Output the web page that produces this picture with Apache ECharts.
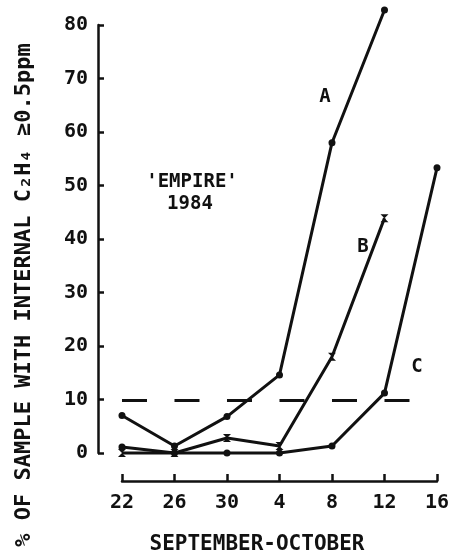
<!DOCTYPE html>
<html>
<head>
<meta charset="utf-8">
<script src="https://cdn.jsdelivr.net/npm/echarts@6/dist/echarts.min.js"></script>
<style>
html,body{margin:0;padding:0;background:#fff;}
#main{width:453px;height:559px;}
</style>
</head>
<body>
<div id="main"></div>
<script>
/*********** data ***********/
var days = ['22', '26', '30', '4', '8', '12', '16'];
var yTicks = [0, 10, 20, 30, 40, 50, 60, 70, 80];
var curveA = [7, 1.3, 6.8, 14.6, 58, 82.8, null];
var curveB = [0, 0, 2.8, 1.3, 18, 43.9, null];
var curveC = [1.1, 0, 0, 0, 1.3, 11.2, 53.3];
var limitX = [0, 5.5];
var limitY = [9.8, 9.8];

var font = '"DejaVu Sans Mono", "Liberation Mono", monospace';
var ink = '#111';

function pairs(vals) {
    var out = [];
    for (var i = 0; i < vals.length; i++) {
        if (vals[i] !== null) out.push([i, vals[i]]);
    }
    return out;
}
function limitPairs() {
    var out = [];
    for (var i = 0; i < limitX.length; i++) out.push([limitX[i], limitY[i]]);
    return out;
}

var bowtie = 'path://M0,0 L10,0 L0,10 L10,10 Z';

var myChart = echarts.init(document.getElementById('main'));

var option = {
    backgroundColor: '#fff',
    animation: false,
    grid: [
        {left: 98, right: 16, top: 25, bottom: 106},
        {left: 122, right: 16, top: 460, bottom: 78}
    ],
    xAxis: [
        {
            gridIndex: 0, type: 'value', min: -0.457, max: 6,
            show: false
        },
        {
            gridIndex: 1, type: 'value', min: 0, max: 6, interval: 1,
            axisLine: {show: true, onZero: false, lineStyle: {color: ink, width: 2.5}},
            axisTick: {show: true, inside: true, length: 7, lineStyle: {color: ink, width: 2.5}},
            splitLine: {show: false},
            axisLabel: {
                margin: 12, color: ink, fontFamily: font, fontWeight: 'bold', fontSize: 20,
                formatter: function (v) { return days[v]; }
            }
        }
    ],
    yAxis: [
        {
            gridIndex: 0, type: 'value', min: yTicks[0], max: yTicks[yTicks.length - 1], interval: 10,
            axisLine: {show: true, onZero: false, lineStyle: {color: ink, width: 2.5}},
            axisTick: {show: true, inside: true, length: 6, lineStyle: {color: ink, width: 2.5}},
            splitLine: {show: false},
            axisLabel: {margin: 10, color: ink, fontFamily: font, fontWeight: 'bold', fontSize: 20}
        },
        {gridIndex: 1, type: 'value', show: false}
    ],
    series: [
        {
            name: 'A', type: 'line', data: pairs(curveA), clip: false,
            symbol: 'circle', symbolSize: 7,
            lineStyle: {color: ink, width: 3}, itemStyle: {color: ink}
        },
        {
            name: 'B', type: 'line', data: pairs(curveB), clip: false,
            symbol: bowtie, symbolSize: 8,
            lineStyle: {color: ink, width: 3}, itemStyle: {color: ink}
        },
        {
            name: 'C', type: 'line', data: pairs(curveC), clip: false,
            symbol: 'circle', symbolSize: 7,
            lineStyle: {color: ink, width: 3}, itemStyle: {color: ink}
        },
        {
            name: 'limit', type: 'line', data: limitPairs(), clip: false,
            symbol: 'none',
            lineStyle: {color: ink, width: 3, type: [25, 27.5]}
        }
    ],
    graphic: [
        {
            type: 'text', x: 24, y: 295, rotation: Math.PI / 2,
            style: {
                text: '% OF SAMPLE WITH INTERNAL C\u2082H\u2084 \u22650.5ppm',
                fill: ink, font: 'bold 22px ' + font,
                align: 'center', verticalAlign: 'middle'
            }
        },
        {
            type: 'text', x: 257, y: 545,
            style: {text: 'SEPTEMBER-OCTOBER', fill: ink, font: 'bold 21px ' + font, align: 'center', verticalAlign: 'middle'}
        },
        {
            type: 'text', x: 192, y: 182,
            style: {text: "'EMPIRE'", fill: ink, font: 'bold 19px ' + font, align: 'center', verticalAlign: 'middle'}
        },
        {
            type: 'text', x: 190, y: 204,
            style: {text: '1984', fill: ink, font: 'bold 19px ' + font, align: 'center', verticalAlign: 'middle'}
        },
        {
            type: 'text', x: 325, y: 97,
            style: {text: 'A', fill: ink, font: 'bold 19px ' + font, align: 'center', verticalAlign: 'middle'}
        },
        {
            type: 'text', x: 363, y: 247,
            style: {text: 'B', fill: ink, font: 'bold 19px ' + font, align: 'center', verticalAlign: 'middle'}
        },
        {
            type: 'text', x: 417, y: 367,
            style: {text: 'C', fill: ink, font: 'bold 19px ' + font, align: 'center', verticalAlign: 'middle'}
        }
    ]
};

myChart.setOption(option);
</script>
</body>
</html>
